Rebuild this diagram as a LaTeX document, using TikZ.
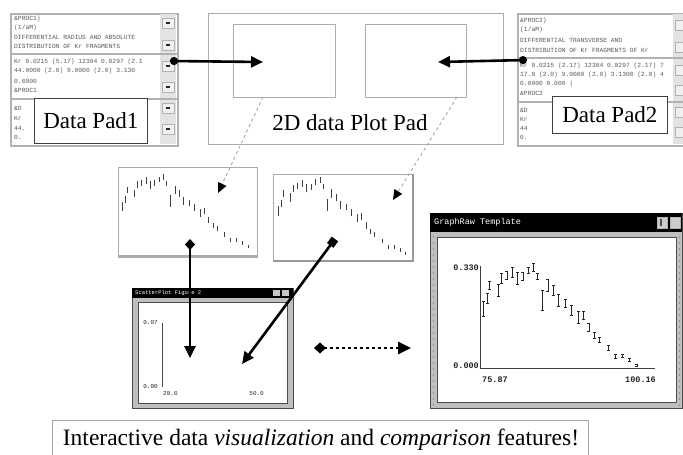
\documentclass[tikz,border=0pt]{standalone}
\usepackage{fontspec}
\setmainfont{Liberation Serif}
\setmonofont{Liberation Mono}
\usetikzlibrary{arrows.meta}

% normalised points of the measured curve: u, v, error-bar height
\newcommand\curvepts{0.01/0.59/0.15, 0.03/0.69/0.10, 0.04/0.82/0.08, 0.09/0.77/0.12,
  0.11/0.89/0.10, 0.14/0.92/0.08, 0.17/0.95/0.10, 0.20/0.89/0.12, 0.23/0.91/0.08,
  0.26/0.97/0.06, 0.29/1.00/0.08, 0.31/0.91/0.06, 0.34/0.67/0.20, 0.37/0.82/0.12,
  0.40/0.77/0.10, 0.43/0.67/0.12, 0.47/0.64/0.08, 0.50/0.57/0.10, 0.54/0.50/0.12,
  0.57/0.52/0.08, 0.60/0.40/0.08, 0.63/0.32/0.06, 0.66/0.28/0.05, 0.71/0.20/0.04,
  0.75/0.12/0.04, 0.79/0.12/0.03, 0.83/0.08/0.03, 0.87/0.03/0.02}

\tikzset{
  padwin/.style={draw=gray!60, line width=1.6pt, fill=white, anchor=north west, inner sep=0pt},
  padlabel/.style={draw=black!75, line width=0.8pt, fill=white, anchor=north west, inner sep=0pt,
    font=\fontsize{23}{23}\selectfont},
  plotbox/.style={draw=gray!65, line width=1pt, fill=white, anchor=north west, inner sep=0pt},
  tinytxt/.style={font=\ttfamily\fontsize{6.3}{7}\selectfont, anchor=west, inner sep=0pt, text=black!65},
  ticktxt/.style={font=\ttfamily\fontsize{6}{6}\selectfont, inner sep=0pt, text=black!85},
  bigtick/.style={font=\ttfamily\bfseries\fontsize{8.5}{9}\selectfont, inner sep=0pt, text=black!85},
  titletxt/.style={font=\ttfamily\fontsize{8.5}{9}\selectfont, anchor=west, inner sep=0pt, text=white},
  scrollbtn/.style={draw=gray!60, fill=gray!12, line width=0.5pt},
  link/.style={line width=2.6pt, black},
  guide/.style={line width=0.9pt, gray!70, dashed, -{Triangle[length=10pt,width=9pt,color=black]}},
  errbar/.style={line width=0.6pt, black!85},
  minibar/.style={line width=0.6pt, black!75},
}

\begin{document}
\begin{tikzpicture}[x=1pt, y=-1pt]
\useasboundingbox (0,0) rectangle (683,455);

% ---------- Data Pad 1 ----------
\node[padwin, minimum width=167pt, minimum height=132pt] (pad1) at (10,13) {};
\fill[gray!22] (160,14) rectangle (176,144);
\draw[gray!60, line width=2pt] (10,54) -- (177,54);
\draw[gray!60, line width=2pt] (10,99) -- (177,99);
\foreach \b in {23,45,66,87,108,129}{
  \draw[scrollbtn] (162,{\b-5}) rectangle (174,{\b+5});
  \fill[black!85] (166,{\b-1}) rectangle (170,{\b+1});
}
\node[tinytxt] (t11) at (14,19) {\&PROC1)};
\node[tinytxt] (t12) at (14,28) {(1/aM)};
\node[tinytxt] (t13) at (14,37) {DIFFERENTIAL RADIUS AND ABSOLUTE};
\node[tinytxt] (t14) at (14,46) {DISTRIBUTION OF Kr FRAGMENTS};
\node[tinytxt] (t15) at (14,62) {Kr 0.0215 (5.17) 12304 0.0297 (2.1};
\node[tinytxt] (t16) at (14,71) {44.0000 (2.0) 9.0000 (2.0) 3.130};
\node[tinytxt] (t17) at (14,81) {0.0000};
\node[tinytxt] (t18) at (14,90) {\&PROC1};
\node[tinytxt] (t19) at (14,108) {\&D};
\node[tinytxt] (t1a) at (14,118) {Kr};
\node[tinytxt] (t1b) at (14,128) {44.};
\node[tinytxt] (t1c) at (14,137) {0.};
\node[padlabel, minimum width=113pt, minimum height=45pt] (lab1) at (34,98) {Data Pad1};

% ---------- Data Pad 2 ----------
\node[padwin, minimum width=170pt, minimum height=132pt] (pad2) at (517,13) {};
\fill[gray!22] (673,14) rectangle (687,144);
\draw[gray!60, line width=2pt] (517,58) -- (687,58);
\draw[gray!60, line width=2pt] (517,102) -- (687,102);
\foreach \b in {25,47,70,90,112,132}{
  \draw[scrollbtn] (675,{\b-5}) rectangle (687,{\b+5});
}
\node[tinytxt] (t21) at (520,21) {\&PROC2)};
\node[tinytxt] (t22) at (520,30) {(1/aM)};
\node[tinytxt] (t23) at (520,40) {DIFFERENTIAL TRANSVERSE AND};
\node[tinytxt] (t24) at (520,50) {DISTRIBUTION OF Kr FRAGMENTS OF Kr};
\node[tinytxt] (t25) at (520,66) {Kr 0.0215 (2.17) 12304 0.0297 (2.17) 7};
\node[tinytxt] (t26) at (520,75) {17.0 (2.0) 9.0000 (2.0) 3.1300 (2.0) 4};
\node[tinytxt] (t27) at (520,84) {0.0000 0.000 |};
\node[tinytxt] (t28) at (520,93) {\&PROC2};
\node[tinytxt] (t29) at (520,110) {\&D};
\node[tinytxt] (t2a) at (520,119) {Kr};
\node[tinytxt] (t2b) at (520,128) {44};
\node[tinytxt] (t2c) at (520,137) {0.};
\node[padlabel, minimum width=115pt, minimum height=37pt] (lab2) at (552,96) {Data Pad2};

% ---------- 2D data Plot Pad ----------
\node[plotbox, minimum width=295pt, minimum height=131pt] (plotpad) at (208,13) {};
\node[plotbox, minimum width=102pt, minimum height=73pt] (lbox) at (233,24) {};
\node[plotbox, minimum width=101pt, minimum height=73pt] (rbox) at (365,24) {};
\node[font=\fontsize{23}{23}\selectfont, inner sep=0pt] (ptitle) at (350,123) {2D data Plot Pad};

% ---------- small previews ----------
\node[plotbox, minimum width=139pt, minimum height=90pt] (sp1) at (118,167) {};
\draw[gray!65, line width=2.2pt] (118,256) -- (257,256);
\node[plotbox, minimum width=140pt, minimum height=87pt] (sp2) at (273,174) {};
\draw[gray!80, line width=1.4pt] (413,174) -- (413,261) -- (273,261);
\begin{scope}[shift={(121,250)}, x=146pt, y=72pt]
  \foreach \u/\v/\h in \curvepts
    \draw[minibar] (\u,{\v-\h/3}) -- (\u,{\v+\h/3+0.03});
\end{scope}
\begin{scope}[shift={(277,257)}, x=148pt, y=76pt]
  \foreach \u/\v/\h in \curvepts
    \draw[minibar] (\u,{\v-\h/3}) -- (\u,{\v+\h/3+0.03});
\end{scope}

% ---------- small scatter window ----------
\node[draw=black!70, line width=0.6pt, fill=gray!50, anchor=north west, inner sep=0pt,
      minimum width=161pt, minimum height=120pt] (swin) at (132,288) {};
\fill[black] (132,288) rectangle (293,298);
\node[titletxt, font=\ttfamily\fontsize{5.5}{6}\selectfont] (stitle) at (135,293) {ScatterPlot Figure 2};
\fill[gray!45] (273,290) rectangle (280,296);
\fill[gray!45] (282,290) rectangle (289,296);
\draw[black!70, line width=0.6pt, fill=white] (138,302) rectangle (287,403);
\draw[black!70, line width=0.5pt] (162,323) -- (162,387);
\node[ticktxt, anchor=east] (s1) at (158,323) {0.07};
\node[ticktxt, anchor=east] (s2) at (158,387) {0.00};
\node[ticktxt, anchor=west] (s3) at (163,394) {20.0};
\node[ticktxt, anchor=east] (s4) at (264,394) {50.0};

% ---------- large template window ----------
\node[draw=black!70, line width=0.6pt, fill=gray!50, anchor=north west, inner sep=0pt,
      minimum width=252pt, minimum height=195pt] (bwin) at (430,213) {};
\fill[black] (430,213) rectangle (682,232);
\node[titletxt] (btitle) at (434,222) {GraphRaw Template};
\draw[fill=gray!40, draw=gray!60] (657,217) rectangle (667,228);
\draw[fill=gray!40, draw=gray!60] (670,217) rectangle (680,228);
\fill[black!70] (660,219) rectangle (662,226);
\draw[gray!85, line width=1pt, dash pattern=on 2pt off 4pt] (433,236) -- (433,406);
\draw[gray!85, line width=1pt, dash pattern=on 2pt off 4pt] (679,236) -- (679,406);
\draw[black!70, line width=0.6pt, fill=white] (437,237) rectangle (676,402);
\draw[black!75, line width=0.6pt] (480,266) -- (480,368) -- (655,368);
\node[bigtick, anchor=east] (b1) at (479,268) {0.330};
\node[bigtick, anchor=east] (b2) at (479,366) {0.000};
\node[bigtick, anchor=west] (b3) at (482,380) {75.87};
\node[bigtick, anchor=east] (b4) at (656,380) {100.16};
\begin{scope}[shift={(482,368)}, x=178pt, y=101pt]
  \foreach \u/\v/\h in \curvepts{
    \draw[errbar] (\u,{\v-\h/2}) -- (\u,{\v+\h/2});
    \draw[errbar] ([xshift=-1.5pt]\u,{\v+\h/2}) -- ([xshift=1.5pt]\u,{\v+\h/2});
    \draw[errbar] ([xshift=-1.5pt]\u,{\v-\h/2}) -- ([xshift=1.5pt]\u,{\v-\h/2});
  }
\end{scope}

% ---------- caption ----------
\node[draw=gray!70, line width=1.3pt, anchor=north west, inner sep=0pt,
      minimum width=536pt, minimum height=40pt] (capbox) at (52,420) {};
\node[font=\fontsize{23.5}{24}\selectfont, inner sep=0pt] (caption) at (321,440)
  {Interactive data \textit{visualization} and \textit{comparison} features!};

% ---------- connectors ----------
\coordinate (p1out) at (170,61);
\coordinate (lin) at (263,62);
\coordinate (p2out) at (527,60);
\coordinate (rin) at (438,62);
\coordinate (lfoot) at (263,97);
\coordinate (rfoot) at (457,97);
\coordinate (sp1in) at (218,193);
\coordinate (sp2in) at (393,200);
\coordinate (sp1out) at (190,239);
\coordinate (sp2out) at (335,239);
\coordinate (swa) at (190,358);
\coordinate (swb) at (242,364);
\coordinate (cmpa) at (314,348);
\coordinate (cmpb) at (411,348);

\draw[link, {Circle[length=8pt]}-{Triangle[length=12pt,width=11pt]}] (p1out) -- (lin);
\draw[link, {Circle[length=8pt]}-{Triangle[length=12pt,width=11pt]}] (p2out) -- (rin);
\draw[guide] (lfoot) -- (sp1in);
\draw[guide] (rfoot) -- (sp2in);
\draw[link, {Diamond[length=11pt,width=10pt]}-{Triangle[length=12pt,width=11pt]}] (sp1out) -- (swa);
\draw[link, {Square[length=8pt,width=8pt]}-{Triangle[length=12pt,width=11pt]}] (sp2out) -- (swb);
\draw[link, dash pattern=on 3pt off 3pt, {Diamond[length=12pt,width=11pt]}-{Triangle[length=13pt,width=12pt]}] (cmpa) -- (cmpb);
\end{tikzpicture}
\end{document}
